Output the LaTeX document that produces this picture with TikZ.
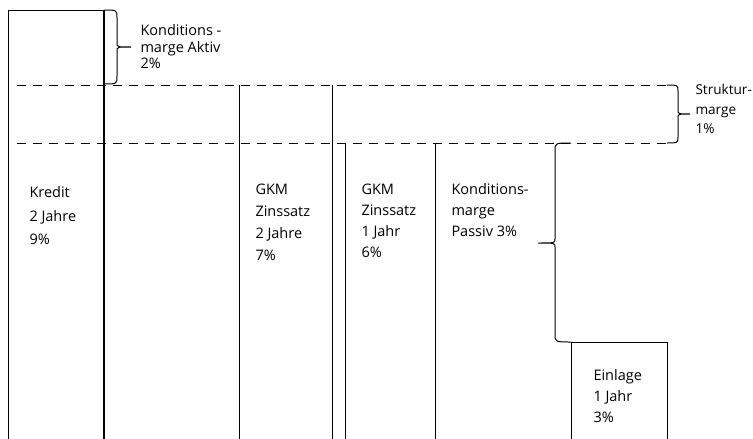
\documentclass[tikz,border=0pt]{standalone}
\usepackage{fontspec}
\setmainfont{Open Sans}
\usepackage{tikz}

\begin{document}
\begin{tikzpicture}[x=1pt, y=-1pt, line width=1pt,
    lbl/.style={anchor=north west, inner sep=0pt, align=left, font=\fontsize{14.5}{21}\selectfont},
    level/.style={dash pattern=on 9pt off 7pt}]
    \useasboundingbox (0, 0) rectangle (753, 439);
    % Kredit
    \draw (8, 439) -- (8, 10) -- (104, 10);
    \draw[line width=1.8pt] (104, 10) -- (104, 439);
    \node[lbl, font=\fontsize{14.5}{23.5}\selectfont] (kredit) at (29, 186) {Kredit\\2 Jahre\\9\%};
    % Konditionsmarge Aktiv
    \draw (104, 10) .. controls (117, 10) .. (117, 18) -- (117, 43) .. controls (117, 47) .. (131, 47)
      .. controls (117, 47) .. (117, 51) -- (117, 76) .. controls (117, 84) .. (104, 84);
    \node[lbl, font=\fontsize{14.5}{16.5}\selectfont] (aktiv) at (140, 24) {Konditions -\\marge Aktiv\\2\%};
    % Strukturmarge
    \draw[level] (17, 85) -- (667, 85);
    \draw[level] (17, 143) -- (667, 143);
    \draw (667, 85) .. controls (678, 85) .. (678, 91) -- (678, 110) .. controls (678, 114) .. (690, 114)
      .. controls (678, 114) .. (678, 118) -- (678, 137) .. controls (678, 143) .. (667, 143);
    \node[lbl, font=\fontsize{13.6}{19.5}\selectfont] (struktur) at (695, 84) {Struktur-\\marge\\1\%};
    % GKM
    \draw (239, 85) -- (239, 439);
    \draw (332, 85) -- (332, 439);
    \node[lbl, font=\fontsize{14.5}{22}\selectfont] (gkmzwei) at (255, 183) {GKM\\Zinssatz\\2 Jahre\\7\%};
    \draw (345, 143) -- (345, 439);
    \draw (435, 143) -- (435, 439);
    \node[lbl] (gkmeins) at (361, 183) {GKM\\Zinssatz\\1 Jahr\\6\%};
    % Konditionsmarge Passiv
    \draw (571, 342) .. controls (555, 342) .. (555, 334) -- (555, 247) .. controls (555, 243) .. (538, 243)
      .. controls (555, 243) .. (555, 239) -- (555, 151) .. controls (555, 143) .. (571, 143);
    \node[lbl] (passiv) at (451, 183) {Konditions-\\marge\\Passiv 3\%};
    % Einlage
    \draw (571, 439) -- (571, 342) -- (667, 342) -- (667, 439);
    \node[lbl] (einlage) at (593, 369) {Einlage\\1 Jahr\\3\%};
\end{tikzpicture}
\end{document}
